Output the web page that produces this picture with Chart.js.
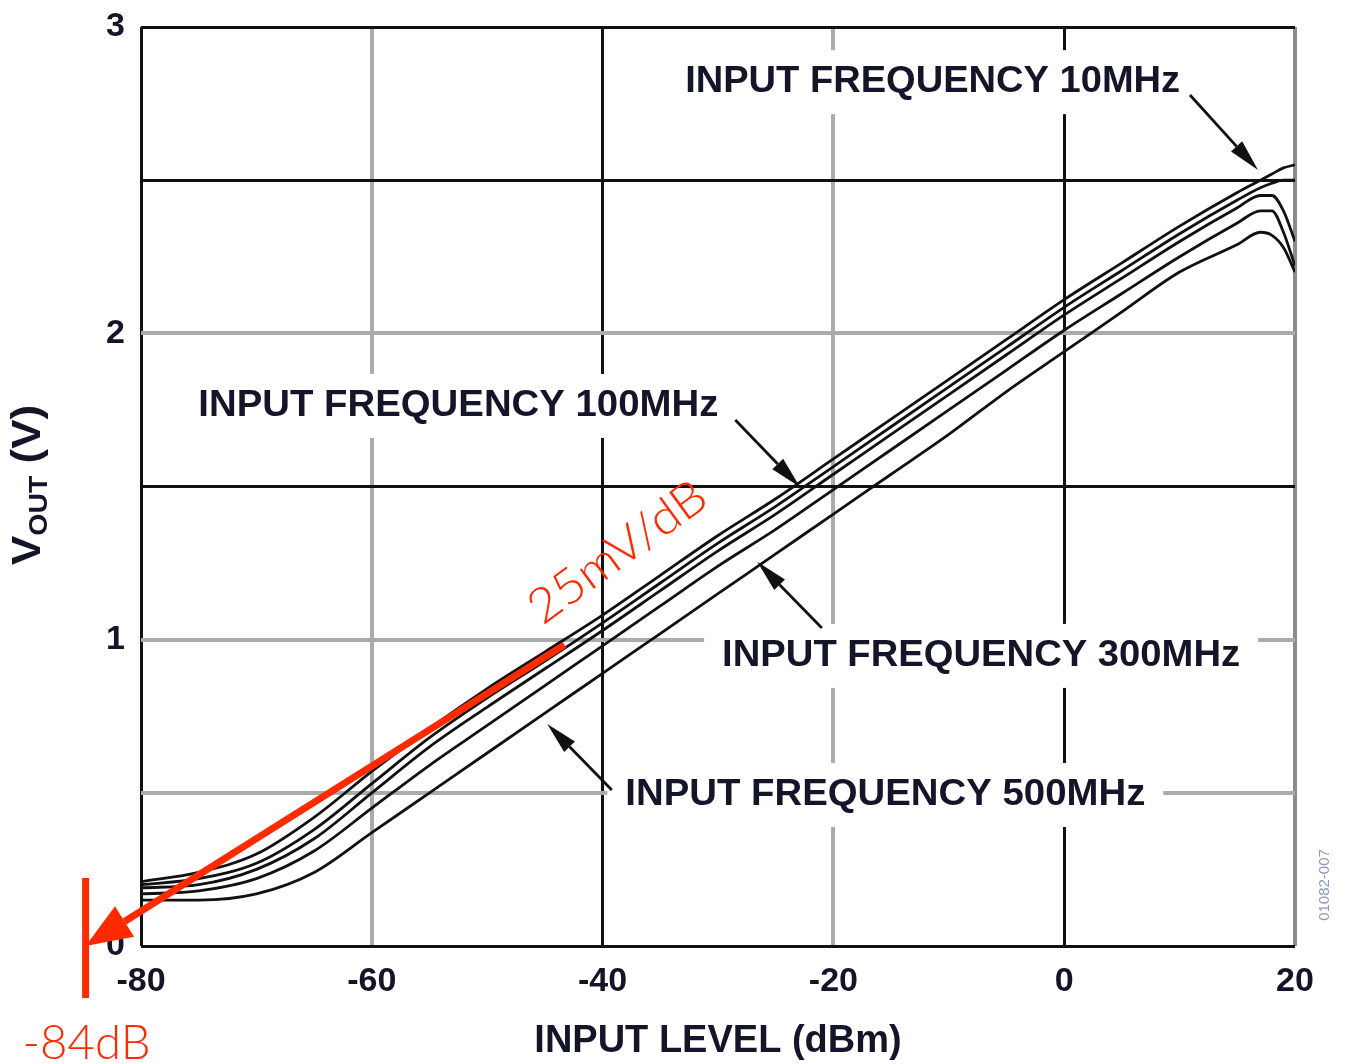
<!DOCTYPE html>
<html>
<head>
<meta charset="utf-8">
<script src="https://cdn.jsdelivr.net/npm/chart.js@4.4.0/dist/chart.umd.min.js"></script>
<style>
  html, body { margin: 0; padding: 0; background: #ffffff; }
  #wrap { width: 1350px; height: 1064px; }
</style>
</head>
<body>
<div id="wrap"><canvas id="c" width="1350" height="1064"></canvas></div>
<script>
// ---------- data ----------
const inputLevelDbm = [-80,-75,-70,-65,-60,-55,-50,-45,-40,-35,-30,-25,-20,-15,-10,-5,0,5,10,15,17,18,19,20];

const vout10MHz  = [0.21,0.24,0.30,0.42,0.57,0.71,0.84,0.96,1.08,1.21,1.34,1.46,1.59,1.72,1.85,1.98,2.11,2.23,2.35,2.46,2.50,2.52,2.54,2.55];
const vout100MHz = [0.20,0.22,0.27,0.38,0.53,0.68,0.81,0.93,1.055,1.185,1.315,1.435,1.565,1.695,1.825,1.955,2.085,2.205,2.325,2.435,2.475,2.49,2.50,2.50];
const vout300MHz = [0.19,0.20,0.25,0.35,0.50,0.65,0.78,0.905,1.03,1.16,1.29,1.41,1.54,1.67,1.80,1.93,2.06,2.18,2.30,2.41,2.45,2.45,2.40,2.30];
const voutCurve4 = [0.17,0.18,0.22,0.31,0.45,0.59,0.72,0.85,0.98,1.11,1.24,1.36,1.49,1.62,1.75,1.88,2.01,2.13,2.25,2.36,2.40,2.40,2.33,2.22];
const vout500MHz = [0.15,0.15,0.17,0.24,0.37,0.50,0.63,0.76,0.89,1.02,1.15,1.28,1.41,1.54,1.67,1.81,1.94,2.07,2.20,2.29,2.33,2.32,2.28,2.20];

const seriesNames = ['10MHz','100MHz','300MHz','curve 4','500MHz'];
const seriesValues = [vout10MHz, vout100MHz, vout300MHz, voutCurve4, vout500MHz];

const xTickValues = [-80,-60,-40,-20,0,20];
const yTickLabels = ['0','1','2','3'];

// annotation texts and anchor points (data units)
const labelTexts   = ['INPUT FREQUENCY 10MHz','INPUT FREQUENCY 100MHz','INPUT FREQUENCY 300MHz','INPUT FREQUENCY 500MHz'];
const labelCenters = [[-11.4,2.82],[-52.5,1.763],[-7.2,0.947],[-15.5,0.493]];
const arrowFrom    = [[10.9,2.778],[-28.5,1.717],[-21.0,1.038],[-39.2,0.509]];
const arrowTo      = [[16.8,2.533],[-22.9,1.498],[-26.6,1.254],[-44.8,0.725]];
const slopeLineFrom = [-43.3, 0.983];
const slopeLineTo   = [-84.8, 0.0];
const interceptMark = [-84.8, 0.222, -0.17];
const slopeText = '25mV/dB';
const interceptText = '-84dB';

// ---------- chart ----------
const blackX = [-80,-40,0];
const blackY = [0,1.5,2.5,3];

function drawArrow(ctx, x1, y1, x2, y2, w, headLen, headHalf, color){
  const ang = Math.atan2(y2-y1, x2-x1);
  const bx = x2 - headLen*Math.cos(ang), by = y2 - headLen*Math.sin(ang);
  ctx.save();
  ctx.strokeStyle = color; ctx.fillStyle = color; ctx.lineWidth = w; ctx.lineCap = 'butt';
  ctx.beginPath(); ctx.moveTo(x1,y1); ctx.lineTo(bx,by); ctx.stroke();
  ctx.beginPath();
  ctx.moveTo(x2,y2);
  ctx.lineTo(bx + headHalf*Math.sin(ang), by - headHalf*Math.cos(ang));
  ctx.lineTo(bx - headHalf*Math.sin(ang), by + headHalf*Math.cos(ang));
  ctx.closePath(); ctx.fill();
  ctx.restore();
}

function fillTextWidth(ctx, text, cx, cy, width){
  const m = ctx.measureText(text).width;
  ctx.save();
  ctx.translate(cx, cy);
  ctx.scale(width/m, 1);
  ctx.textAlign = 'center'; ctx.textBaseline = 'middle';
  ctx.fillText(text, 0, 0);
  ctx.restore();
}

const labelWidths = [495, 520, 518, 520];

const annotPlugin = {
  id: 'annot',
  beforeDatasetsDraw(chart){
    const ctx = chart.ctx, xs = chart.scales.x, ys = chart.scales.y;
    ctx.save();
    ctx.font = 'bold 36px "Liberation Sans", Arial, sans-serif';
    labelTexts.forEach((t,i)=>{
      const cx = xs.getPixelForValue(labelCenters[i][0]);
      const cy = ys.getPixelForValue(labelCenters[i][1]);
      const w = labelWidths[i];
      ctx.fillStyle = '#ffffff';
      ctx.fillRect(cx - w/2 - 18, cy - 32, w + 36, 64);
      ctx.fillStyle = '#15152a';
      fillTextWidth(ctx, t, cx, cy, w);
    });
    ctx.restore();
  },
  afterDatasetsDraw(chart){
    const ctx = chart.ctx, xs = chart.scales.x, ys = chart.scales.y;
    const px = v => xs.getPixelForValue(v), py = v => ys.getPixelForValue(v);
    // black pointer arrows
    arrowFrom.forEach((f,i)=>{
      drawArrow(ctx, px(f[0]), py(f[1]), px(arrowTo[i][0]), py(arrowTo[i][1]), 2.8, 32, 7.5, '#111');
    });
    // red slope line
    const red = '#ff2a00';
    drawArrow(ctx, px(slopeLineFrom[0]), py(slopeLineFrom[1]), px(slopeLineTo[0]), py(slopeLineTo[1]), 7, 46, 18, red);
    ctx.save();
    ctx.strokeStyle = red; ctx.lineWidth = 7;
    ctx.beginPath();
    ctx.moveTo(px(interceptMark[0]), py(interceptMark[1]));
    ctx.lineTo(px(interceptMark[0]), py(interceptMark[2]));
    ctx.stroke();
    ctx.fillStyle = red;
    ctx.font = '300 48px Lato, "Open Sans", "Liberation Sans", sans-serif';
    fillTextWidth(ctx, interceptText, px(interceptMark[0]) + 1, 1044, 128);
    ctx.save();
    ctx.translate(px(-38.7), py(1.285));
    ctx.rotate(-36*Math.PI/180);
    fillTextWidth(ctx, slopeText, 0, 0, 208);
    ctx.restore();
    ctx.restore();
  },
  afterDraw(chart){
    const ctx = chart.ctx;
    // y axis title with subscript
    ctx.save();
    ctx.translate(0, 485);
    ctx.rotate(-Math.PI/2);
    ctx.fillStyle = '#15152a';
    ctx.textBaseline = 'alphabetic'; ctx.textAlign = 'left';
    const fBig = 'bold 40px "Liberation Sans", Arial, sans-serif';
    const fSub = 'bold 26px "Liberation Sans", Arial, sans-serif';
    ctx.font = fBig; const wV = ctx.measureText('V').width; const wP = ctx.measureText(' (V)').width;
    ctx.font = fSub; const wO = ctx.measureText('OUT').width;
    const total = wV + wO + wP;
    const sx = 160 / total;
    ctx.scale(sx, 1);
    let x0 = -total/2;
    ctx.font = fBig; ctx.fillText('V', x0, 40); x0 += wV;
    ctx.font = fSub; ctx.fillText('OUT', x0, 47); x0 += wO;
    ctx.font = fBig; ctx.fillText(' (V)', x0, 40);
    ctx.restore();
    // figure code
    ctx.save();
    ctx.translate(1325, 885);
    ctx.rotate(-Math.PI/2);
    ctx.fillStyle = '#8f98bb';
    ctx.font = '15px "Liberation Sans", Arial, sans-serif';
    ctx.textAlign = 'center'; ctx.textBaseline = 'middle';
    ctx.fillText('01082-007', 0, 0);
    ctx.restore();
  }
};

const datasets = seriesValues.map((vals, i) => ({
  label: seriesNames[i],
  data: inputLevelDbm.map((x, j) => ({x: x, y: vals[j]})),
  borderColor: '#111111',
  borderWidth: 2.8,
  pointRadius: 0,
  fill: false,
  cubicInterpolationMode: 'monotone'
}));

new Chart(document.getElementById('c'), {
  type: 'line',
  data: { datasets },
  plugins: [annotPlugin],
  options: {
    responsive: false,
    animation: false,
    devicePixelRatio: 1,
    layout: { padding: { left: 0, right: 55, top: 27, bottom: 0 } },
    plugins: { legend: { display: false }, tooltip: { enabled: false } },
    scales: {
      x: {
        type: 'linear', min: -80, max: 20,
        afterBuildTicks: s => { s.ticks = xTickValues.map(v => ({value: v})); },
        afterFit: s => { s.height = 118; },
        border: { display: false },
        grid: {
          drawTicks: false,
          color: c => blackX.includes(c.tick.value) ? '#111111' : (c.tick.value === 20 ? '#8c8c8c' : '#ababab'),
          lineWidth: c => blackX.includes(c.tick.value) ? 3 : 4
        },
        ticks: {
          padding: 15, color: '#15152a',
          font: { family: '"Liberation Sans", Arial, sans-serif', size: 34, weight: 'bold' },
          callback: v => String(v)
        },
        title: {
          display: true, text: 'INPUT LEVEL (dBm)', color: '#15152a',
          font: { family: '"Liberation Sans", Arial, sans-serif', size: 38, weight: 'bold', lineHeight: 1 },
          padding: { top: 0, bottom: 3 }
        }
      },
      y: {
        type: 'linear', min: 0, max: 3,
        ticks: {
          stepSize: 0.5, padding: 16, color: '#15152a',
          font: { family: '"Liberation Sans", Arial, sans-serif', size: 34, weight: 'bold', lineHeight: 0.3 },
          callback: v => (Number.isInteger(v) ? yTickLabels[v] : '')
        },
        afterFit: s => { s.width = 141; },
        border: { display: false },
        grid: {
          drawTicks: false,
          color: c => blackY.includes(c.tick.value) ? '#111111' : '#ababab',
          lineWidth: c => blackY.includes(c.tick.value) ? 3 : 4
        }
      }
    }
  }
});
</script>
</body>
</html>
